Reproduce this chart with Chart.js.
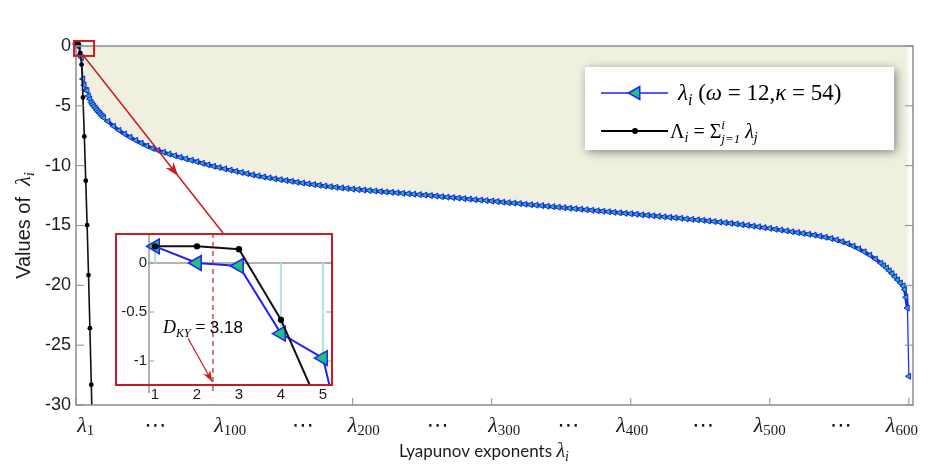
<!DOCTYPE html>
<html>
<head>
<meta charset="utf-8">
<script src="https://cdn.jsdelivr.net/npm/chart.js@4.4.1/dist/chart.umd.min.js"></script>
<style>
  html, body { margin: 0; padding: 0; background: #fff; }
  #wrap { position: relative; width: 930px; height: 465px; overflow: hidden; }
  #main { position: absolute; left: 0; top: 0; }
  #inset { position: absolute; left: 115px; top: 233px; }
</style>
</head>
<body>
<div id="wrap">
  <canvas id="main" width="930" height="465"></canvas>
  <canvas id="inset" width="218" height="171"></canvas>
</div>
<script>
// ─── Data ─────────────────────────────────────────────────────────────────────

// exponent index i (sampled along the curve)
const expIndex = [
  1, 2, 3, 4, 5, 6, 7, 8, 9, 10, 11, 12, 13, 14, 15, 16, 17, 18, 19, 20, 21,
  24, 28, 32, 36, 40, 44, 48, 52, 56, 60, 64, 68, 72, 76, 80, 84, 88, 92, 96, 100,
  104, 108, 112, 116, 120, 124, 128, 132, 136, 140, 144, 148, 152, 156, 160,
  164, 168, 172, 176, 180, 184, 188, 192, 196, 200,
  204, 208, 212, 216, 220, 224, 228, 232, 236, 240, 244, 248, 252, 256, 260,
  264, 268, 272, 276, 280, 284, 288, 292, 296, 300,
  304, 308, 312, 316, 320, 324, 328, 332, 336, 340, 344, 348, 352, 356, 360,
  364, 368, 372, 376, 380, 384, 388, 392, 396, 400,
  404, 408, 412, 416, 420, 424, 428, 432, 436, 440, 444, 448, 452, 456, 460,
  464, 468, 472, 476, 480, 484, 488, 492, 496, 500,
  504, 508, 512, 516, 520, 524, 528, 532, 536, 540, 544, 548, 552, 556, 560,
  564, 568, 572, 576, 580,
  582, 584, 586, 588, 590, 592, 594, 596, 597, 598, 599, 600
];

// λ_i (ω = 12, κ = 54)
const expValue = [
  0.17, 0.00, -0.03, -0.72, -0.97, -2.75, -3.26, -3.69, -3.72, -4.17, -4.44, -4.72,
  -4.90, -5.05, -5.20, -5.35, -5.50, -5.62, -5.75, -5.88, -6.00,
  -6.30, -6.70, -7.05, -7.35, -7.62, -7.88, -8.12, -8.35, -8.55, -8.72,
  -8.88, -9.03, -9.17, -9.30, -9.43, -9.55, -9.67, -9.80, -9.93, -10.05,
  -10.16, -10.27, -10.37, -10.47, -10.57, -10.67, -10.77, -10.86, -10.94, -11.02,
  -11.10, -11.17, -11.24, -11.31, -11.38,
  -11.45, -11.52, -11.58, -11.64, -11.70, -11.76, -11.81, -11.86, -11.91, -11.96,
  -12.00, -12.04, -12.08, -12.12, -12.16, -12.20, -12.23, -12.27, -12.31, -12.34,
  -12.38, -12.42, -12.46, -12.50, -12.54,
  -12.59, -12.63, -12.67, -12.71, -12.75, -12.79, -12.84, -12.88, -12.92, -12.96,
  -13.00, -13.05, -13.09, -13.13, -13.17, -13.22, -13.26, -13.30, -13.34, -13.39,
  -13.43, -13.47, -13.51, -13.56, -13.60,
  -13.64, -13.68, -13.73, -13.77, -13.81, -13.85, -13.90, -13.94, -13.98, -14.02,
  -14.06, -14.11, -14.15, -14.19, -14.23, -14.28, -14.32, -14.36, -14.40, -14.45,
  -14.49, -14.53, -14.57, -14.62, -14.67,
  -14.72, -14.77, -14.82, -14.87, -14.93, -14.99, -15.05, -15.11, -15.18, -15.24,
  -15.31, -15.38, -15.45, -15.52, -15.59, -15.66, -15.73, -15.80, -15.89, -15.98,
  -16.08, -16.20, -16.35, -16.52, -16.72,
  -16.95, -17.20, -17.48, -17.80, -18.15,
  -18.35, -18.55, -18.78, -19.02, -19.28, -19.55, -19.80, -20.05, -20.35, -21.00, -21.90, -27.60
];

// Λ_i = Σ λ_j (cumulative, black dots)
const sumIndex = [1, 2, 3, 4, 5, 6, 7, 8, 9, 10, 11, 12, 13];
const sumValue = [0.17, 0.17, 0.14, -0.58, -1.55, -4.30, -7.56, -11.25, -14.97, -19.14, -23.58, -28.30, -33.00];

// axes
const yTicks = [0, -5, -10, -15, -20, -25, -30];
const xTicks = [1, 100, 200, 300, 400, 500, 600];
const xTickNames = ["1", "100", "200", "300", "400", "500", "600"];
const insetXTicks = [1, 2, 3, 4, 5];
const insetYTicks = [0, -0.5, -1];
const insetYNames = ["0", "-0.5", "-1"];
const dKY = "3.18";

// ─── Style ────────────────────────────────────────────────────────────────────

const BLUE = "#1f1fff";
const GREEN = "#1dc27c";
const BEIGE = "#f0f0e1";
const STEM = "#b4e1e4";
const RED = "#c61c22";
const AXIS = "#8c8c8c";
const INK = "#1c1c1c";
const SERIF = '"Liberation Serif", "DejaVu Serif", serif';
const SANS = '"Liberation Sans", Arial, sans-serif';
const HUMAN = 'Lato, "Open Sans", sans-serif';

// where the label text sits (index coordinates), and where the "⋯" go
const xLabelAt = [8, 112, 208, 309, 401, 500, 595];
const xDotsAt = [58, 164, 261, 355, 452, 551];

// ─── Small canvas helpers ─────────────────────────────────────────────────────

function seg(ctx, x1, y1, x2, y2) {
  ctx.beginPath();
  ctx.moveTo(x1, y1);
  ctx.lineTo(x2, y2);
  ctx.stroke();
}

// draw a run of text pieces with their own fonts / vertical shifts
function run(ctx, x, y, parts, align) {
  let w = 0;
  parts.forEach((p) => {
    ctx.font = p.f;
    if (p.sup !== undefined) {
      p.w = Math.max(ctx.measureText(p.sup).width, ctx.measureText(p.sub).width);
    } else {
      p.w = ctx.measureText(p.t).width;
    }
    w += p.w;
  });
  if (align === "center") x -= w / 2;
  else if (align === "right") x -= w;
  parts.forEach((p) => {
    ctx.font = p.f;
    if (p.sup !== undefined) {
      ctx.fillText(p.sup, x, y - 9);
      ctx.fillText(p.sub, x, y + 5);
    } else {
      ctx.fillText(p.t, x, y + (p.dy || 0));
    }
    x += p.w;
  });
  return w;
}

function arrowHead(ctx, tx, ty, fx, fy, len, half) {
  const a = Math.atan2(ty - fy, tx - fx);
  const c = Math.cos(a), s = Math.sin(a);
  ctx.beginPath();
  ctx.moveTo(tx, ty);
  ctx.lineTo(tx - c * len + s * half, ty - s * len - c * half);
  ctx.lineTo(tx - c * len * 0.7, ty - s * len * 0.7);
  ctx.lineTo(tx - c * len - s * half, ty - s * len + c * half);
  ctx.closePath();
  ctx.fill();
}

// ─── Main chart decorations ───────────────────────────────────────────────────

const mainDeco = {
  id: "mainDeco",
  afterDatasetsDraw(chart) {
    const { ctx, chartArea: a, scales: { x, y } } = chart;
    ctx.save();

    // frame
    ctx.strokeStyle = AXIS;
    ctx.lineWidth = 1.5;
    ctx.strokeRect(a.left, a.top, a.right - a.left, a.bottom - a.top);

    // inward ticks
    ctx.lineWidth = 1;
    yTicks.forEach((v) => {
      const py = y.getPixelForValue(v);
      seg(ctx, a.left, py, a.left + 8, py);
      seg(ctx, a.right, py, a.right - 8, py);
    });
    xTicks.forEach((v) => {
      const px = x.getPixelForValue(v);
      seg(ctx, px, a.bottom, px, a.bottom - 7);
    });

    // y tick labels
    ctx.fillStyle = INK;
    ctx.font = "18px " + SANS;
    ctx.textAlign = "right";
    ctx.textBaseline = "middle";
    yTicks.forEach((v) => {
      ctx.fillText(String(v), a.left - 5, y.getPixelForValue(v));
    });

    // x tick labels  λ_1 ... λ_600
    ctx.textAlign = "left";
    ctx.textBaseline = "alphabetic";
    xTickNames.forEach((n, k) => {
      const px = x.getPixelForValue(xLabelAt[k]);
      run(ctx, px, 432, [
        { t: "λ", f: "italic 22px " + SERIF },
        { t: n, f: "15px " + SERIF, dy: 3 },
      ], "center");
    });
    xDotsAt.forEach((v) => {
      run(ctx, x.getPixelForValue(v), 432, [{ t: "⋯", f: "22px DejaVu Sans" }], "center");
    });

    // axis titles
    run(ctx, 484, 457, [
      { t: "Lyapunov exponents ", f: "17px " + HUMAN },
      { t: "λ", f: "italic 20px " + SERIF },
      { t: "i", f: "italic 14px " + SERIF, dy: 4 },
    ], "center");

    ctx.save();
    ctx.translate(22, (a.top + a.bottom) / 2);
    ctx.rotate(-Math.PI / 2);
    run(ctx, 0, 8, [
      { t: "Values of  ", f: "20px " + SANS },
      { t: "λ", f: "italic 22px " + SERIF },
      { t: "i", f: "italic 15px " + SERIF, dy: 4 },
    ], "center");
    ctx.restore();

    // zoom box around the first exponents + connector to the inset
    ctx.strokeStyle = RED;
    ctx.fillStyle = RED;
    ctx.lineWidth = 2;
    const bx1 = x.getPixelForValue(-0.4), bx2 = x.getPixelForValue(14);
    const by1 = y.getPixelForValue(0.42), by2 = y.getPixelForValue(-0.83);
    ctx.strokeRect(bx1, by1, bx2 - bx1, by2 - by1);

    const sx = x.getPixelForValue(6), sy = y.getPixelForValue(-0.75);
    const ex = 115 + 108, ey = 233;
    ctx.lineWidth = 1.5;
    seg(ctx, sx, sy, ex, ey);
    const t = 0.68;
    arrowHead(ctx, sx + (ex - sx) * t, sy + (ey - sy) * t, sx, sy, 14, 5);

    // legend
    const L = { x: 585, y: 67, w: 309, h: 83 };
    ctx.save();
    ctx.shadowColor = "rgba(0,0,0,0.45)";
    ctx.shadowBlur = 9;
    ctx.shadowOffsetX = 2;
    ctx.shadowOffsetY = 2;
    ctx.fillStyle = "#fff";
    ctx.fillRect(L.x, L.y, L.w, L.h);
    ctx.restore();

    ctx.strokeStyle = BLUE;
    ctx.lineWidth = 1.5;
    seg(ctx, 601, 93, 668, 93);
    ctx.fillStyle = GREEN;
    ctx.strokeStyle = BLUE;
    Chart.helpers.drawPoint(ctx, { pointStyle: "triangle", rotation: -90, radius: 7.5, borderWidth: 1.5 }, 636, 93);

    ctx.strokeStyle = "#000";
    ctx.lineWidth = 2;
    seg(ctx, 601, 131, 668, 131);
    ctx.fillStyle = "#000";
    ctx.beginPath();
    ctx.arc(635, 131, 3, 0, Math.PI * 2);
    ctx.fill();

    ctx.fillStyle = "#000";
    run(ctx, 678, 100, [
      { t: "λ", f: "italic 23px " + SERIF },
      { t: "i", f: "italic 16px " + SERIF, dy: 5 },
      { t: " (", f: "23px " + SERIF },
      { t: "ω", f: "italic 23px " + SERIF },
      { t: " = 12,", f: "23px " + SERIF },
      { t: "κ", f: "italic 23px " + SERIF },
      { t: " = 54)", f: "23px " + SERIF },
    ], "left");
    run(ctx, 670, 138, [
      { t: "Λ", f: "20px " + SERIF },
      { t: "i", f: "italic 14px " + SERIF, dy: 4 },
      { t: " = ", f: "20px " + SERIF },
      { t: "Σ", f: "20px " + SERIF },
      { sup: "i", sub: "j=1", f: "italic 13px " + SERIF },
      { t: " λ", f: "italic 20px " + SERIF },
      { t: "j", f: "italic 14px " + SERIF, dy: 4 },
    ], "left");

    ctx.restore();
  },
};

// the dense middle of the curve reads as a thick band; the sparse ends stay thin
const denseFrom = 21;
const denseTo = expIndex.length - 2;

new Chart(document.getElementById("main"), {
  type: "line",
  data: {
    datasets: [
      {
        label: "Λi",
        data: sumIndex.map((v, k) => ({ x: v, y: sumValue[k] })),
        borderColor: "#111",
        borderWidth: 1.6,
        pointRadius: 2.4,
        pointBackgroundColor: "#000",
        pointBorderColor: "#000",
        pointBorderWidth: 0,
        fill: false,
        order: 0,
        clip: { left: 6, top: 6, right: 0, bottom: 0 },
      },
      {
        label: "λi",
        data: expIndex.map((v, k) => ({ x: v, y: expValue[k] })),
        borderColor: BLUE,
        borderWidth: 3.5,
        segment: {
          borderWidth: (c) => (c.p0DataIndex >= denseFrom && c.p1DataIndex <= denseTo ? 3.5 : 1.2),
        },
        pointStyle: "triangle",
        pointRotation: -90,
        pointRadius: 3.5,
        pointBackgroundColor: GREEN,
        pointBorderColor: BLUE,
        pointBorderWidth: 1,
        fill: "origin",
        backgroundColor: BEIGE,
        order: 1,
        clip: { left: 6, top: 6, right: 0, bottom: 0 },
      },
    ],
  },
  options: {
    responsive: false,
    animation: false,
    events: [],
    layout: { autoPadding: false, padding: { left: 76, top: 46, right: 17, bottom: 60 } },
    scales: {
      x: { type: "linear", min: 1, max: 603, display: false },
      y: { type: "linear", min: -30, max: 0, display: false },
    },
    plugins: { legend: { display: false }, tooltip: { enabled: false } },
  },
  plugins: [mainDeco],
});

// ─── Inset (first five exponents) ─────────────────────────────────────────────

const insetDeco = {
  id: "insetDeco",
  beforeDraw(chart) {
    const { ctx, width, height } = chart;
    ctx.save();
    ctx.fillStyle = "#fff";
    ctx.fillRect(0, 0, width, height);
    ctx.restore();
  },
  beforeDatasetsDraw(chart) {
    const { ctx, chartArea: a, scales: { y } } = chart;
    ctx.save();
    ctx.strokeStyle = "#9a9a9a";
    ctx.lineWidth = 1.5;
    const y0 = y.getPixelForValue(0);
    seg(ctx, a.left, y0, a.right, y0);
    seg(ctx, a.left, a.top, a.left, a.bottom + 8);
    ctx.lineWidth = 1;
    insetYTicks.forEach((v) => {
      const py = y.getPixelForValue(v);
      seg(ctx, a.left, py, a.left + 5, py);
      seg(ctx, a.right - 2, py, a.right - 7, py);
    });
    ctx.restore();
  },
  afterDatasetsDraw(chart) {
    const { ctx, chartArea: a, scales: { x, y } } = chart;
    ctx.save();
    ctx.fillStyle = INK;
    ctx.font = "15px " + SANS;
    ctx.textAlign = "right";
    ctx.textBaseline = "middle";
    insetYTicks.forEach((v, k) => ctx.fillText(insetYNames[k], a.left - 2, y.getPixelForValue(v)));
    ctx.textAlign = "center";
    insetXTicks.forEach((v) => ctx.fillText(String(v), x.getPixelForValue(v), a.bottom + 10));

    // Kaplan–Yorke marker
    ctx.strokeStyle = RED;
    ctx.fillStyle = RED;
    ctx.lineWidth = 1.2;
    ctx.setLineDash([5, 4]);
    const dx = x.getPixelForValue(2.38);
    seg(ctx, dx, a.top, dx, a.bottom + 10);
    ctx.setLineDash([]);
    const ax1 = x.getPixelForValue(1.79), ay1 = y.getPixelForValue(-0.77);
    const ax2 = x.getPixelForValue(2.36), ay2 = y.getPixelForValue(-1.21);
    seg(ctx, ax1, ay1, ax2, ay2);
    arrowHead(ctx, ax2, ay2, ax1, ay1, 11, 4);

    ctx.fillStyle = "#000";
    ctx.textAlign = "left";
    ctx.textBaseline = "alphabetic";
    run(ctx, x.getPixelForValue(1.19), y.getPixelForValue(-0.71), [
      { t: "D", f: "italic 18px " + SERIF },
      { t: "KY", f: "italic 12px " + SERIF, dy: 4 },
      { t: " = ", f: "18px " + SERIF },
      { t: dKY, f: "17px " + SANS },
    ], "left");

    // red frame
    ctx.strokeStyle = RED;
    ctx.lineWidth = 2;
    ctx.strokeRect(1, 1, a.right - 2, a.bottom - 1);
    ctx.restore();
  },
};

const head = 6;
new Chart(document.getElementById("inset"), {
  type: "line",
  data: {
    datasets: [
      {
        type: "bar",
        data: expIndex.slice(0, head).map((v, k) => ({ x: v, y: expValue[k] })),
        backgroundColor: STEM,
        barThickness: 1.5,
        order: 2,
      },
      {
        data: expIndex.slice(0, head).map((v, k) => ({ x: v, y: expValue[k] })),
        borderColor: BLUE,
        borderWidth: 2,
        pointStyle: "triangle",
        pointRotation: -90,
        pointRadius: 8.5,
        pointBackgroundColor: GREEN,
        pointBorderColor: BLUE,
        pointBorderWidth: 1.5,
        fill: false,
        order: 1,
        clip: { left: 10, top: 4, right: 0, bottom: 0 },
      },
      {
        data: sumIndex.slice(0, head).map((v, k) => ({ x: v, y: sumValue[k] })),
        borderColor: "#111",
        borderWidth: 2,
        pointRadius: 3.2,
        pointBackgroundColor: "#000",
        pointBorderWidth: 0,
        fill: false,
        order: 0,
        clip: { left: 10, top: 4, right: 0, bottom: 0 },
      },
    ],
  },
  options: {
    responsive: false,
    animation: false,
    events: [],
    layout: { autoPadding: false, padding: { left: 34, top: 0, right: 0, bottom: 19 } },
    scales: {
      x: { type: "linear", min: 0.857, max: 5.24, display: false, offset: false },
      y: { type: "linear", min: -1.245, max: 0.306, display: false },
    },
    plugins: { legend: { display: false }, tooltip: { enabled: false } },
  },
  plugins: [insetDeco],
});
</script>
</body>
</html>
